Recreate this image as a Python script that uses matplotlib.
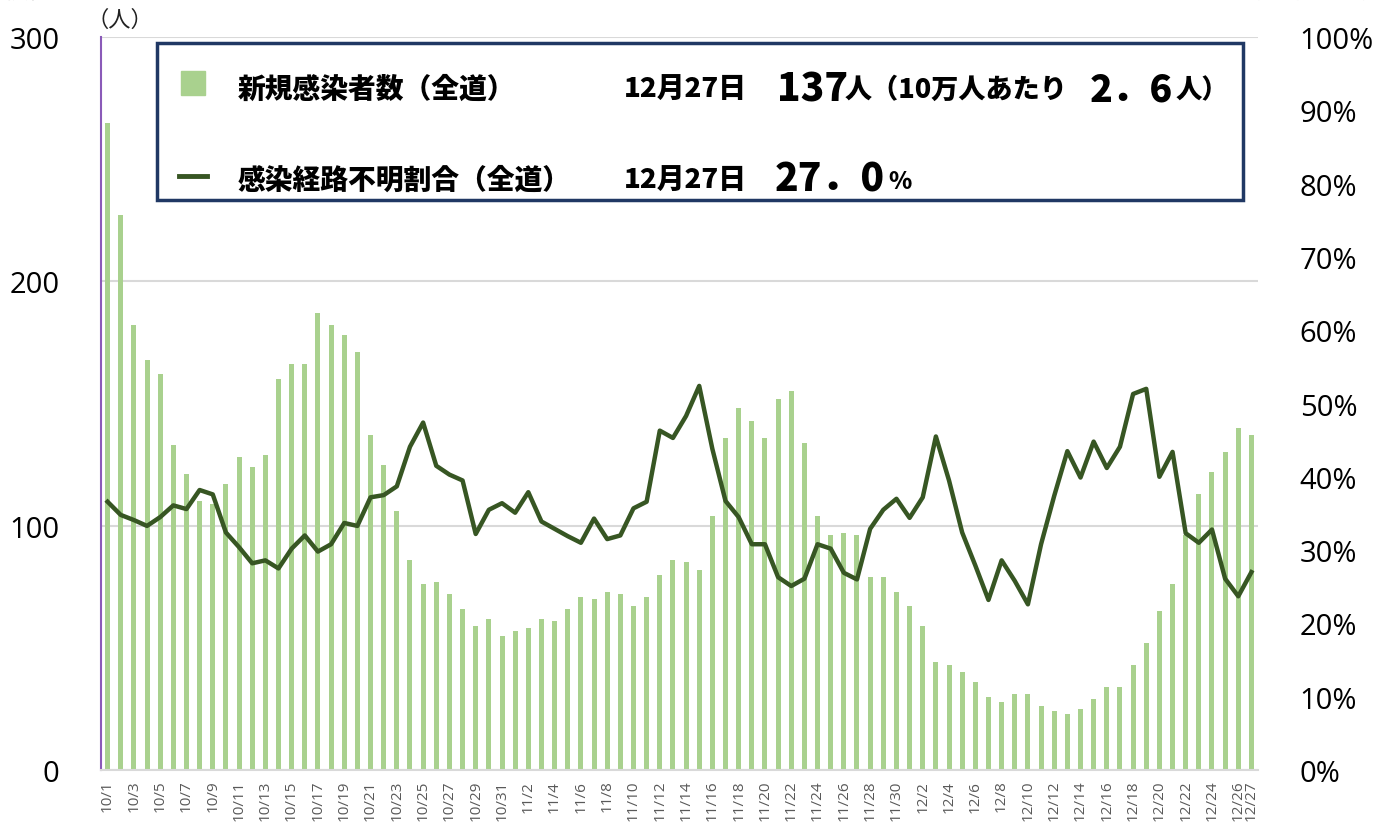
import matplotlib.pyplot as plt
from matplotlib.patches import Rectangle
from matplotlib.lines import Line2D
import pandas as pd

plt.rcParams['font.family'] = ['Noto Sans CJK JP', 'DejaVu Sans']

days = pd.date_range('2020-10-01', '2020-12-27')
dates = [f'{d.month}/{d.day}' for d in days]

# 新規感染者数 (人)
cases = [265, 227, 182, 168, 162, 133, 121, 110, 109, 117,
         128, 124, 129, 160, 166, 166, 187, 182, 178, 171,
         137, 125, 106, 86, 76, 77, 72, 66, 59, 62, 55,
         57, 58, 62, 61, 66, 71, 70, 73, 72, 67,
         71, 80, 86, 85, 82, 104, 136, 148, 143, 136,
         152, 155, 134, 104, 96, 97, 96, 79, 79, 73,
         67, 59, 44, 43, 40, 36, 30, 28, 31, 31,
         26, 24, 23, 25, 29, 34, 34, 43, 52, 65,
         76, 96, 113, 122, 130, 140, 137]

# 感染経路不明割合 (%, 7日間平均)
unknown = [36.6, 34.8, 34.1, 33.3, 34.5, 36.1, 35.6, 38.2, 37.6, 32.4,
           30.4, 28.2, 28.6, 27.5, 30.2, 32.0, 29.8, 30.8, 33.7, 33.3,
           37.2, 37.5, 38.7, 44.1, 47.4, 41.5, 40.3, 39.5, 32.2, 35.5, 36.4,
           35.1, 37.9, 33.9, 32.9, 31.9, 31.0, 34.3, 31.5, 32.0, 35.7,
           36.6, 46.3, 45.3, 48.3, 52.4, 43.8, 36.7, 34.5, 30.8, 30.8,
           26.3, 25.1, 26.1, 30.8, 30.2, 26.9, 26.0, 32.9, 35.5, 37.0,
           34.4, 37.2, 45.5, 39.5, 32.4, 27.9, 23.2, 28.6, 25.8, 22.6,
           30.8, 37.4, 43.5, 39.9, 44.8, 41.2, 44.1, 51.3, 52.0, 40.0,
           43.4, 32.3, 31.0, 32.8, 26.1, 23.7, 27.0]

W, H = 1379, 829
bar_color = '#A9D18E'
line_color = '#375623'
grid_color = '#D9D9D9'


def fx(x):
    return x / W


def fy(y):
    return 1 - y / H


fig = plt.figure(figsize=(W / 100, H / 100), dpi=100)
ax = fig.add_axes([fx(101), fy(771), fx(1258) - fx(101), fy(38) - fy(771)])

x = list(range(len(dates)))
ax.bar(x, cases, width=0.38, color=bar_color, zorder=2)
ax.set_xlim(-0.5, len(dates) - 0.5)
ax.set_ylim(0, 300)
ax.set_yticks([0, 100, 200, 300])
ax.grid(axis='y', color=grid_color, lw=1.5, zorder=0)
ax.set_axisbelow(True)

ticks = list(range(0, len(dates), 2)) + [len(dates) - 1]
ax.set_xticks(ticks)
ax.set_xticklabels([dates[i] for i in ticks], rotation=90, fontsize=11,
                   color='#595959', family='Open Sans')
ax.tick_params(axis='x', length=0, pad=7)
ax.tick_params(axis='y', length=0, pad=30, labelsize=21)
for lab in ax.get_yticklabels():
    lab.set_family('Open Sans')

for s in ['top', 'right']:
    ax.spines[s].set_visible(False)
ax.spines['left'].set_color('#8A5AB8')
ax.spines['left'].set_linewidth(1.5)
ax.spines['bottom'].set_color(grid_color)
ax.spines['bottom'].set_linewidth(1.5)

ax2 = ax.twinx()
ax2.plot(x, unknown, color=line_color, lw=3.2, zorder=3)
ax2.set_ylim(0, 100)
ax2.set_yticks(range(0, 101, 10))
ax2.set_yticklabels([f'{v}%' for v in range(0, 101, 10)], family='Open Sans')
ax2.tick_params(axis='y', length=0, pad=30, labelsize=21)
for s in ['top', 'right', 'left', 'bottom']:
    ax2.spines[s].set_visible(False)

# axis captions (cut off at top edge in the original)
fig.text(fx(2), fy(3), '新規感染者数', fontsize=16, color='#222222', va='bottom')
fig.text(fx(86), fy(32), '（人）', fontsize=16, color='#222222', va='bottom')
fig.text(fx(1238), fy(3), '（7日間平均）', fontsize=16, color='#222222', va='bottom')

# legend box
fig.add_artist(Rectangle((fx(157), fy(201)), fx(1243) - fx(157), fy(44) - fy(201),
                         transform=fig.transFigure, fill=True, facecolor='white',
                         edgecolor='#203864', lw=2.5, zorder=5))
fig.add_artist(Rectangle((fx(181), fy(96)), fx(205) - fx(181), fy(72) - fy(96),
                         transform=fig.transFigure, color=bar_color, zorder=6))
fig.add_artist(Line2D([fx(179), fx(207)], [fy(177), fy(177)],
                      transform=fig.transFigure, color=line_color, lw=3.5, zorder=6))

bold = dict(fontweight='black', color='black', va='baseline', zorder=7)
y1, y2 = fy(98), fy(189)
fig.text(fx(238), y1, '新規感染者数（全道）', fontsize=20, **bold)
fig.text(fx(624), y1, '12月27日', fontsize=20, **bold)
fig.text(fx(777), fy(101), '137', fontsize=28, **bold)
fig.text(fx(845), y1, '人（10万人あたり', fontsize=19.5, **bold)
fig.text(fx(1090), fy(101), '2．6', fontsize=27, **bold)
fig.text(fx(1176), y1, '人）', fontsize=19, **bold)

fig.text(fx(238), y2, '感染経路不明割合（全道）', fontsize=20, **bold)
fig.text(fx(624), y2, '12月27日', fontsize=20, **bold)
fig.text(fx(775), fy(191), '27．0', fontsize=28, **bold)
fig.text(fx(888), y2, '%', fontsize=17, **bold)

fig.savefig('out.png', dpi=100)
